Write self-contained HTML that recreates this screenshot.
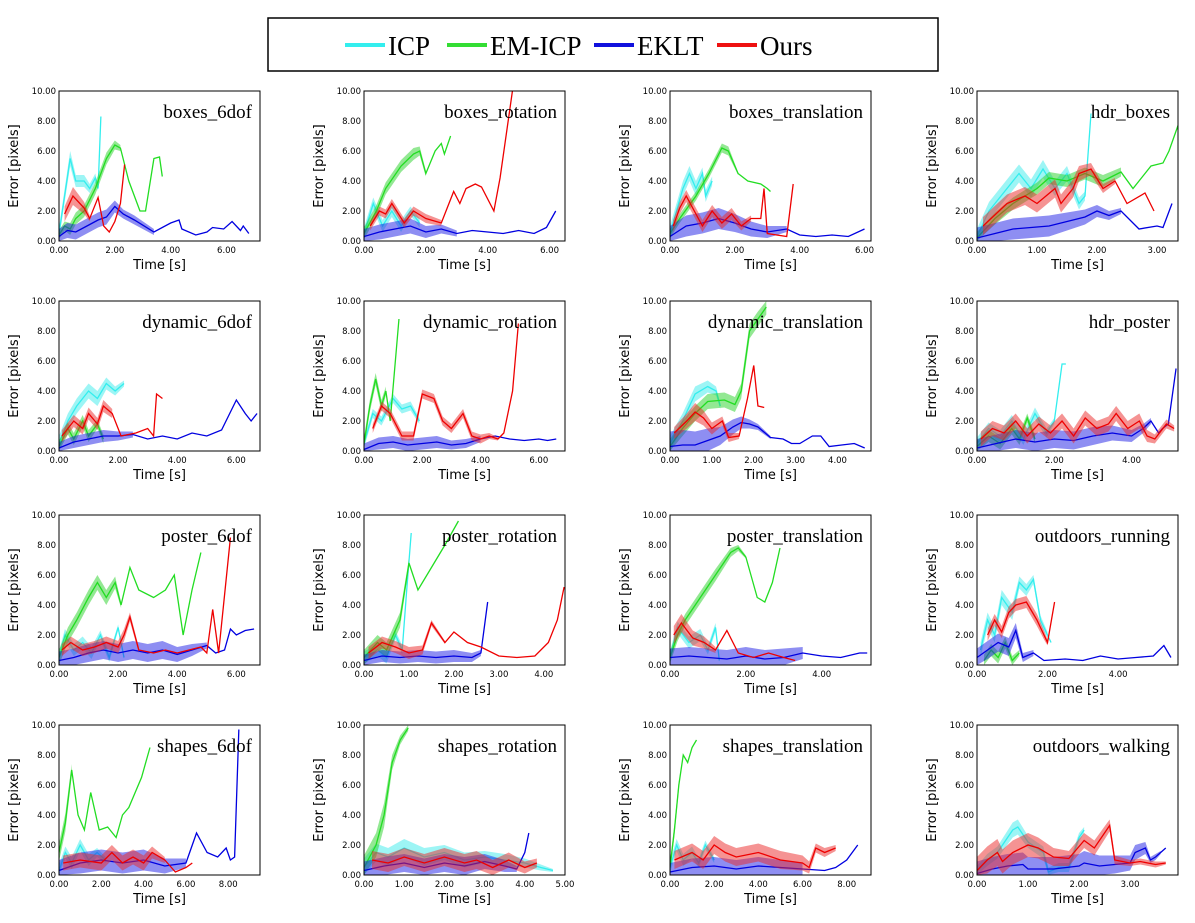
<!DOCTYPE html>
<html><head><meta charset="utf-8">
<style>
body{margin:0;background:#fff;}
svg{display:block;}
.tk{font-family:"DejaVu Sans","Liberation Sans",sans-serif;font-size:8.5px;fill:#000;}
.ax{font-family:"DejaVu Sans","Liberation Sans",sans-serif;font-size:13px;fill:#000;}
.tt{font-family:"Liberation Serif",serif;font-size:19px;fill:#000;}
.lg{font-family:"Liberation Serif",serif;font-size:27px;fill:#000;}
</style></head>
<body>
<svg id="fig" width="1195" height="923" xmlns="http://www.w3.org/2000/svg">
<g>
<rect x="268" y="18" width="670" height="53" fill="#fff" stroke="#000" stroke-width="1.5"/>
<g><line x1="345" y1="45" x2="385" y2="45" stroke="#33eeee" stroke-width="4"/><text class="lg" x="388" y="55">ICP</text></g>
<g><line x1="447" y1="45" x2="487" y2="45" stroke="#33dd33" stroke-width="4"/><text class="lg" x="490" y="55">EM-ICP</text></g>
<g><line x1="594" y1="45" x2="634" y2="45" stroke="#1111dd" stroke-width="4"/><text class="lg" x="637" y="55">EKLT</text></g>
<g><line x1="717" y1="45" x2="757" y2="45" stroke="#ee1111" stroke-width="4"/><text class="lg" x="760" y="55">Ours</text></g>
</g>
</svg>
<script>
const panelNames = ["boxes_6dof","boxes_rotation","boxes_translation","hdr_boxes","dynamic_6dof","dynamic_rotation","dynamic_translation","hdr_poster","poster_6dof","poster_rotation","poster_translation","outdoors_running","shapes_6dof","shapes_rotation","shapes_translation","outdoors_walking"];
const panelXMax = [7.2,6.5,6.2,3.35,6.8,6.9,4.8,5.2,6.8,4.47,5.3,5.7,9.5,5.0,9.1,3.94];
const panelXStep = [2,2,2,1,2,2,1,2,2,1,2,2,2,1,2,1];
const yTicks = [0,2,4,6,8,10];

const icpData = [
 [[0,0.5,0.4],[0.4,5.5,0.5],[0.6,4.0,0.4],[0.9,4.0,0.4],[1.1,3.5,0.3],[1.3,4.2,0.3],[1.4,3.5,0.2],[1.5,8.3,0]],
 [[0,0.5,0.4],[0.3,2.5,0.4],[0.6,1.0,0.4],[0.9,2.0,0.4],[1.2,1.0,0.4],[1.5,2.0,0.3],[1.8,1.2,0.3]],
 [[0,0.5,0.5],[0.4,3.5,0.5],[0.6,4.5,0.5],[0.8,3.5,0.5],[1.0,4.5,0.4],[1.1,3.0,0.4],[1.3,4.0,0.3]],
 [[0,0.3,0.5],[0.2,2.0,0.6],[0.5,3.5,0.6],[0.7,4.5,0.6],[0.9,3.5,0.6],[1.1,4.8,0.6],[1.3,3.5,0.5],[1.5,4.5,0.5],[1.7,2.5,0.4],[1.8,3.0,0.3],[1.9,8.5,0]],
 [[0,0.5,0.5],[0.3,2.0,0.5],[0.6,3.0,0.5],[1.0,4.0,0.5],[1.3,3.5,0.5],[1.6,4.5,0.4],[1.9,4.0,0.3],[2.2,4.5,0.2]],
 [[0,0.5,0.3],[0.3,2.5,0.3],[0.6,2.0,0.3],[1.0,3.5,0.3],[1.3,2.8,0.3],[1.6,3.0,0.3],[1.9,2.0,0.2]],
 [[0,0.5,0.5],[0.3,2.0,0.5],[0.6,3.8,0.5],[0.9,4.3,0.4],[1.1,4.0,0.3],[1.2,3.0,0.2]],
 [[0,0.5,0.4],[0.3,1.5,0.4],[0.6,1.0,0.4],[0.9,2.0,0.4],[1.2,0.8,0.4],[1.5,2.5,0.4],[1.8,1.2,0.3],[2.0,2.0,0.2],[2.2,5.8,0],[2.3,5.8,0]],
 [[0,0.5,0.4],[0.2,2.0,0.4],[0.5,1.0,0.4],[0.8,1.5,0.4],[1.1,0.8,0.4],[1.4,2.0,0.3],[1.7,0.5,0.3],[2.0,2.5,0.2],[2.2,0.5,0.1]],
 [[0,0.5,0.4],[0.3,1.0,0.4],[0.5,0.5,0.4],[0.7,2.0,0.3],[0.85,1.0,0.3],[0.95,5.0,0.2],[1.05,8.8,0]],
 [[0,0.5,0.4],[0.2,2.5,0.4],[0.5,1.5,0.4],[0.8,2.0,0.4],[1.0,1.0,0.3],[1.2,2.5,0.3],[1.3,0.3,0.1]],
 [[0.1,1.0,0.5],[0.3,3.0,0.5],[0.5,2.0,0.5],[0.7,4.5,0.5],[1.0,3.5,0.5],[1.2,5.5,0.4],[1.4,5.0,0.4],[1.6,5.7,0.3],[1.8,3.0,0.3],[2.0,2.0,0.2],[2.1,1.5,0]],
 [[0,0.3,0.4],[0.3,1.5,0.4],[0.6,0.8,0.4],[1.0,2.0,0.4],[1.4,1.0,0.4],[1.8,1.5,0.3],[2.2,1.0,0.2]],
 [[0,0.5,0.6],[0.3,1.5,0.6],[0.6,1.2,0.6],[1.0,1.8,0.6],[1.5,1.2,0.6],[2.0,1.5,0.5],[2.5,1.0,0.5],[3.0,1.2,0.4],[3.5,1.0,0.4],[4.0,0.8,0.3],[4.4,0.5,0.2],[4.7,0.3,0.1]],
 [[0,0.5,0.4],[0.3,2.0,0.4],[0.6,1.0,0.4],[1.0,1.5,0.4],[1.3,0.8,0.3],[1.6,2.0,0.3],[2.0,1.0,0.2]],
 [[0,0.2,0.4],[0.2,1.0,0.4],[0.4,1.5,0.4],[0.7,3.0,0.5],[0.8,3.2,0.5],[1.0,2.2,0.4],[1.3,1.5,0.4],[1.4,0.2,0.3],[1.6,0.5,0.3],[1.8,0.5,0.3],[2.0,2.5,0.3],[2.1,3.0,0.2]]
];
const emicpData = [
 [[0,0.4,0.3],[0.2,1.0,0.3],[0.4,0.8,0.4],[0.6,1.5,0.4],[0.9,2.0,0.4],[1.3,3.5,0.4],[1.7,5.5,0.4],[2.0,6.4,0.3],[2.2,6.2,0.2],[2.5,4.0,0],[2.9,2.0,0],[3.1,2.0,0],[3.4,5.5,0],[3.6,5.6,0],[3.7,4.3,0]],
 [[0,0.5,0.4],[0.4,2.0,0.4],[0.7,3.5,0.4],[1.2,5.0,0.4],[1.6,5.8,0.4],[1.8,6.0,0.3],[2.0,4.5,0.2],[2.3,6.0,0],[2.5,6.5,0],[2.6,5.8,0],[2.8,7.0,0]],
 [[0,0.5,0.3],[0.3,1.5,0.3],[0.8,3.0,0.3],[1.2,4.5,0.3],[1.6,6.2,0.3],[1.8,6.0,0.3],[2.1,4.5,0.1],[2.4,4.0,0],[2.8,3.8,0],[3.0,3.5,0],[3.1,3.3,0]],
 [[0,0.2,0.4],[0.3,1.5,0.4],[0.6,2.5,0.4],[1.0,3.5,0.4],[1.2,4.2,0.4],[1.5,4.0,0.4],[1.8,4.5,0.4],[2.1,4.0,0.4],[2.4,4.6,0.3],[2.6,3.5,0],[2.9,5.0,0],[3.1,5.2,0],[3.2,6.0,0],[3.35,7.7,0]],
 [[0,0.3,0.4],[0.3,1.5,0.4],[0.5,0.8,0.4],[0.8,2.0,0.4],[1.0,1.0,0.4],[1.3,1.8,0.3],[1.5,0.8,0.3]],
 [[0,0.5,0.4],[0.2,3.0,0.4],[0.4,4.8,0.4],[0.6,3.0,0.4],[0.75,4.0,0.3],[0.9,2.0,0],[1.2,8.8,0]],
 [[0,0.3,0.5],[0.3,1.5,0.5],[0.6,2.5,0.5],[0.9,3.3,0.5],[1.3,3.4,0.5],[1.55,3.1,0.5],[1.7,4.0,0.5],[1.9,8.0,0.5],[2.1,8.8,0.5],[2.3,9.6,0.5]],
 [[0,0.3,0.4],[0.3,1.0,0.4],[0.6,0.5,0.4],[0.9,1.5,0.4],[1.1,0.8,0.4],[1.3,2.2,0.3],[1.5,0.8,0.3]],
 [[0,0.5,0.5],[0.3,2.0,0.5],[0.6,3.0,0.5],[1.0,4.5,0.5],[1.3,5.5,0.5],[1.6,4.5,0.5],[1.9,5.5,0.4],[2.1,4.0,0.2],[2.4,6.5,0],[2.7,5.0,0],[3.2,4.5,0],[3.6,5.0,0],[3.9,6.0,0],[4.2,2.0,0],[4.5,5.0,0],[4.8,7.5,0]],
 [[0,0.5,0.5],[0.3,1.5,0.5],[0.5,1.0,0.5],[0.8,3.0,0.5],[1.0,6.8,0.3],[1.2,5.0,0],[1.5,6.5,0],[1.8,8.0,0],[2.1,9.6,0]],
 [[0,0.5,0.4],[0.2,2.0,0.4],[0.4,3.0,0.4],[0.8,4.5,0.4],[1.2,6.0,0.4],[1.6,7.5,0.3],[1.8,7.8,0.2],[2.0,7.2,0.1],[2.3,4.5,0],[2.5,4.2,0],[2.7,5.5,0],[2.9,7.8,0]],
 [[0.2,0.3,0.4],[0.4,1.0,0.4],[0.6,0.5,0.4],[0.8,1.5,0.4],[1.0,0.3,0.3],[1.2,0.8,0.2]],
 [[0,1.5,0.6],[0.3,3.5,0.6],[0.6,7.0,0.4],[0.9,4.0,0],[1.2,3.0,0],[1.5,5.5,0],[1.9,3.0,0],[2.3,3.2,0],[2.7,2.5,0],[3.0,4.0,0],[3.3,4.5,0],[3.6,5.5,0],[3.9,6.5,0],[4.3,8.5,0]],
 [[0,0.5,0.8],[0.3,2.0,0.8],[0.5,4.0,0.8],[0.7,7.5,0.5],[0.9,9.0,0.3],[1.1,9.8,0.2]],
 [[0,0.5,0.4],[0.2,3.0,0.4],[0.4,6.0,0.3],[0.6,8.0,0],[0.8,7.5,0],[1.0,8.5,0],[1.2,9.0,0]],
 []
];
const ekltData = [
 [[0,0.3,0.5],[0.3,0.7,0.5],[0.6,0.6,0.5],[1.0,1.0,0.5],[1.4,1.4,0.5],[1.7,1.6,0.5],[2.0,2.3,0.4],[2.3,1.8,0.3],[2.7,1.4,0.3],[3.4,0.6,0.2],[4.0,1.2,0],[4.3,1.4,0],[4.4,0.8,0],[4.9,0.4,0],[5.3,0.6,0],[5.5,0.9,0],[5.9,0.8,0],[6.2,1.3,0],[6.5,0.7,0],[6.6,1.0,0],[6.8,0.5,0]],
 [[0,0.3,0.5],[0.5,0.6,0.5],[1.0,0.8,0.5],[1.5,1.0,0.5],[2.0,0.6,0.4],[2.5,0.8,0.3],[3.0,0.5,0.2],[3.5,0.7,0],[4.0,0.6,0],[4.5,0.5,0],[5.0,0.7,0],[5.5,0.5,0],[5.9,0.9,0],[6.2,2.0,0]],
 [[0,0.3,0.7],[0.5,1.0,0.7],[1.0,1.2,0.7],[1.5,1.5,0.7],[2.0,1.2,0.6],[2.5,0.8,0.5],[3.0,0.6,0.4],[3.6,0.8,0.2],[4.0,0.4,0],[4.5,0.3,0],[5.0,0.4,0],[5.5,0.3,0],[6.0,0.8,0]],
 [[0,0.2,0.7],[0.3,0.5,0.7],[0.6,0.8,0.7],[0.9,0.9,0.7],[1.2,1.0,0.7],[1.5,1.3,0.6],[1.8,1.6,0.5],[2.0,2.0,0.4],[2.2,1.7,0.3],[2.4,2.0,0.2],[2.7,0.8,0],[3.0,1.0,0],[3.1,0.9,0],[3.25,2.5,0]],
 [[0,0.2,0.4],[0.5,0.6,0.4],[1.0,0.8,0.4],[1.5,1.0,0.4],[2.0,1.0,0.3],[2.5,1.1,0.2],[3.0,0.8,0],[3.5,1.0,0],[4.0,0.8,0],[4.5,1.2,0],[5.0,1.0,0],[5.5,1.4,0],[6.0,3.4,0],[6.3,2.5,0],[6.5,2.0,0],[6.7,2.5,0]],
 [[0,0.1,0.4],[0.5,0.5,0.4],[1.0,0.6,0.4],[1.5,0.4,0.4],[2.0,0.5,0.4],[2.5,0.6,0.4],[3.0,0.4,0.3],[3.5,0.5,0.3],[4.0,0.8,0.2],[4.5,1.0,0],[5.0,0.8,0],[5.5,0.7,0],[6.0,0.8,0],[6.3,0.7,0],[6.6,0.8,0]],
 [[0,0.3,1.0],[0.3,0.4,1.0],[0.6,0.4,0.9],[0.9,0.7,0.8],[1.2,1.0,0.6],[1.5,1.6,0.5],[1.7,1.9,0.4],[1.9,1.8,0.3],[2.1,1.6,0.2],[2.4,0.9,0.1],[2.7,0.8,0],[2.9,0.5,0],[3.1,0.5,0],[3.4,1.0,0],[3.6,1.0,0],[3.8,0.3,0],[4.1,0.4,0],[4.4,0.5,0],[4.65,0.2,0]],
 [[0,0.2,0.6],[0.5,0.5,0.6],[1.0,0.8,0.6],[1.5,0.6,0.6],[2.0,0.8,0.6],[2.5,0.7,0.6],[3.0,1.0,0.6],[3.5,1.2,0.5],[4.0,1.0,0.4],[4.3,1.5,0.3],[4.5,2.0,0.2],[4.7,1.2,0],[4.8,1.5,0],[4.95,1.8,0],[5.15,5.5,0]],
 [[0,0.3,0.6],[0.5,0.5,0.6],[1.0,0.8,0.6],[1.5,1.0,0.6],[2.0,0.8,0.6],[2.5,1.0,0.6],[3.0,0.8,0.6],[3.5,1.0,0.6],[4.0,0.7,0.5],[4.5,1.0,0.4],[5.0,1.3,0.2],[5.3,0.8,0],[5.6,1.0,0],[5.8,2.4,0],[6.0,2.0,0],[6.3,2.3,0],[6.6,2.4,0]],
 [[0,0.3,0.4],[0.4,0.6,0.4],[0.8,0.5,0.4],[1.2,0.6,0.4],[1.6,0.5,0.4],[2.0,0.6,0.4],[2.4,0.5,0.3],[2.6,0.8,0.2],[2.75,4.2,0]],
 [[0,0.5,0.6],[0.5,0.6,0.6],[1.0,0.5,0.6],[1.5,0.4,0.6],[2.0,0.6,0.6],[2.5,0.4,0.6],[3.0,0.5,0.6],[3.5,0.8,0.4],[4.0,0.6,0],[4.5,0.5,0],[5.0,0.8,0],[5.2,0.8,0]],
 [[0,0.5,0.6],[0.3,1.0,0.6],[0.6,1.5,0.6],[0.9,1.2,0.6],[1.1,2.3,0.5],[1.3,0.5,0.3],[1.6,0.8,0.2],[1.9,0.3,0],[2.5,0.4,0],[3.0,0.3,0],[3.5,0.6,0],[4.0,0.4,0],[4.5,0.5,0],[5.0,0.6,0],[5.3,1.3,0],[5.5,0.5,0]],
 [[0,0.3,0.7],[1.0,0.8,0.7],[2.0,1.0,0.7],[3.0,0.8,0.7],[4.0,1.0,0.7],[5.0,0.6,0.5],[6.0,0.8,0.3],[6.5,2.8,0],[7.0,1.5,0],[7.5,1.2,0],[7.9,1.8,0],[8.1,1.0,0],[8.3,1.2,0],[8.5,9.7,0]],
 [[0,0.3,0.6],[0.5,0.6,0.6],[1.0,0.8,0.6],[1.5,0.5,0.6],[2.0,0.8,0.6],[2.5,0.6,0.6],[3.0,0.9,0.5],[3.5,0.6,0.4],[3.8,0.4,0.2],[4.0,1.5,0],[4.1,2.8,0]],
 [[0,0.2,0.6],[1.0,0.5,0.6],[2.0,0.6,0.6],[3.0,0.4,0.6],[4.0,0.6,0.6],[5.0,0.5,0.5],[6.0,0.4,0.4],[7.0,0.3,0],[7.5,0.5,0],[8.0,1.0,0],[8.5,2.0,0]],
 [[0,0.1,0.8],[0.3,0.4,0.8],[0.6,0.6,0.8],[0.9,0.7,0.8],[1.0,0.4,0.8],[1.5,0.4,0.8],[2.0,0.6,0.8],[2.1,0.8,0.8],[2.4,0.6,0.7],[2.7,0.7,0.6],[3.0,0.8,0.5],[3.1,1.5,0.5],[3.3,1.8,0.4],[3.4,1.0,0.2],[3.5,1.2,0.2],[3.6,1.5,0.1],[3.7,1.8,0]]
];
const oursData = [
 [[0.2,1.8,0.5],[0.5,3.0,0.6],[0.9,2.2,0.4],[1.1,1.5,0.2],[1.4,2.9,0],[1.6,1.0,0],[1.8,0.6,0],[2.0,1.3,0],[2.2,2.5,0],[2.35,5.1,0]],
 [[0.2,1.0,0.3],[0.5,2.0,0.3],[0.7,1.8,0.3],[0.9,2.5,0.3],[1.3,1.2,0.3],[1.6,2.0,0.3],[2.0,1.5,0.3],[2.5,1.2,0.2],[2.9,3.3,0],[3.1,2.5,0],[3.3,3.5,0],[3.6,3.8,0],[3.8,3.6,0],[4.2,2.0,0],[4.4,4.2,0],[4.8,10,0]],
 [[0.1,1.0,0.4],[0.3,2.2,0.4],[0.5,3.0,0.4],[0.8,1.8,0.4],[1.0,1.0,0.4],[1.3,2.0,0.4],[1.6,1.2,0.4],[1.9,1.8,0.4],[2.2,1.0,0.3],[2.5,1.5,0.2],[2.8,1.5,0],[2.9,3.5,0],[3.0,0.5,0],[3.6,0.3,0],[3.8,3.8,0]],
 [[0.1,1.0,0.6],[0.5,2.5,0.6],[0.8,3.0,0.6],[1.0,2.5,0.6],[1.3,3.5,0.6],[1.4,2.5,0.6],[1.6,3.5,0.6],[1.7,4.5,0.5],[1.9,4.8,0.4],[2.1,3.5,0.3],[2.3,4.0,0.2],[2.5,2.5,0],[2.8,3.2,0],[2.95,2.0,0]],
 [[0.1,1.0,0.4],[0.5,2.0,0.4],[0.8,1.5,0.4],[1.0,2.5,0.4],[1.3,1.8,0.4],[1.5,3.0,0.4],[1.8,2.5,0.3],[2.1,1.0,0],[2.6,1.2,0],[3.0,1.5,0],[3.2,1.0,0],[3.3,3.8,0],[3.5,3.5,0]],
 [[0.3,1.5,0.3],[0.6,3.0,0.3],[0.9,2.5,0.3],[1.3,1.0,0.3],[1.7,1.0,0.3],[2.0,3.8,0.3],[2.4,3.5,0.3],[2.7,2.0,0.3],[3.0,1.5,0.3],[3.4,2.5,0.3],[3.7,1.0,0.3],[4.0,0.8,0.3],[4.3,1.0,0.2],[4.6,0.8,0.1],[4.8,1.2,0],[5.1,4.0,0],[5.3,8.5,0]],
 [[0.1,1.2,0.4],[0.4,2.0,0.5],[0.6,2.6,0.6],[0.8,2.2,0.5],[1.0,1.5,0.4],[1.25,2.0,0.3],[1.4,0.9,0.3],[1.65,1.0,0.2],[1.85,3.5,0],[2.0,5.7,0],[2.1,3.0,0],[2.25,2.9,0]],
 [[0.1,0.8,0.5],[0.4,1.5,0.5],[0.7,1.2,0.5],[1.0,2.0,0.5],[1.3,1.0,0.5],[1.6,1.8,0.5],[1.9,1.2,0.5],[2.2,2.0,0.5],[2.5,1.0,0.5],[2.8,2.2,0.5],[3.1,1.5,0.5],[3.4,1.8,0.5],[3.6,2.5,0.5],[3.9,1.5,0.5],[4.2,2.0,0.5],[4.4,1.0,0.4],[4.6,0.8,0.3],[4.9,1.8,0.3],[5.1,1.5,0.2]],
 [[0.1,1.0,0.4],[0.4,1.5,0.4],[0.8,1.0,0.4],[1.2,1.2,0.4],[1.6,1.5,0.4],[2.0,1.2,0.4],[2.2,2.0,0.4],[2.4,3.2,0.3],[2.7,1.0,0.2],[3.2,0.8,0],[3.6,1.0,0],[4.0,0.8,0],[4.4,1.0,0],[4.8,1.2,0],[5.0,0.8,0],[5.2,3.7,0],[5.4,0.8,0],[5.8,8.5,0]],
 [[0.1,0.8,0.4],[0.4,1.5,0.4],[0.7,1.2,0.4],[1.0,0.8,0.4],[1.3,1.0,0.3],[1.5,2.8,0.2],[1.8,1.5,0.1],[2.0,2.2,0],[2.3,1.5,0],[2.6,1.2,0],[3.0,0.6,0],[3.4,0.5,0],[3.8,0.6,0],[4.1,1.5,0],[4.3,3.0,0],[4.45,5.2,0]],
 [[0.1,2.0,0.6],[0.3,2.8,0.6],[0.6,1.8,0.5],[0.9,1.5,0.4],[1.2,1.0,0.2],[1.5,2.3,0],[1.8,0.8,0],[2.2,0.5,0],[2.6,0.8,0],[3.0,0.5,0],[3.3,0.3,0]],
 [[0.3,2.0,0.4],[0.5,3.0,0.4],[0.7,2.2,0.4],[0.9,3.5,0.4],[1.1,4.0,0.4],[1.4,4.2,0.4],[1.7,3.0,0.4],[1.9,2.0,0.3],[2.0,1.5,0.2],[2.2,4.2,0]],
 [[0.2,0.8,0.5],[1.0,1.0,0.5],[2.0,0.8,0.5],[2.5,1.5,0.5],[3.0,0.8,0.5],[3.5,1.2,0.5],[4.0,0.8,0.5],[4.4,1.5,0.4],[5.0,1.0,0.2],[5.5,0.2,0],[6.0,0.5,0],[6.3,0.8,0]],
 [[0.2,1.0,0.6],[0.6,0.8,0.6],[1.0,1.2,0.6],[1.5,0.8,0.6],[2.0,1.2,0.6],[2.5,0.8,0.6],[2.8,1.0,0.6],[3.2,0.5,0.5],[3.6,1.0,0.5],[4.0,0.5,0.4],[4.3,0.8,0.3]],
 [[0.2,1.0,0.6],[1.0,1.5,0.6],[1.5,1.0,0.6],[2.0,2.0,0.6],[2.5,1.5,0.6],[3.0,1.2,0.6],[4.0,1.5,0.6],[5.0,1.0,0.6],[6.0,0.8,0.5],[6.3,0.5,0.4],[6.6,1.8,0.3],[7.0,1.5,0.3],[7.5,1.8,0.2]],
 [[0,0.3,0.9],[0.2,1.0,0.9],[0.4,1.5,0.9],[0.5,0.9,0.8],[0.7,1.5,0.8],[1.0,2.0,0.8],[1.2,1.8,0.7],[1.5,1.2,0.6],[1.8,1.1,0.5],[2.1,2.3,0.5],[2.3,1.8,0.5],[2.6,3.3,0.4],[2.7,1.0,0.3],[3.0,0.8,0.2],[3.2,0.9,0.2],[3.5,0.7,0.2],[3.7,0.8,0.1]]
];

const NS = "http://www.w3.org/2000/svg";
const svg = document.getElementById('fig');
const colLeft = [59, 364, 670, 977];
const rowTop = [91, 301, 515, 725];
const PW = 201, PH = 150, YMAX = 10;
const seriesList = [
  {name:'icp', data:icpData, color:'#33eeee', fill:'rgba(60,235,235,0.5)'},
  {name:'em-icp', data:emicpData, color:'#22dd22', fill:'rgba(40,210,40,0.5)'},
  {name:'eklt', data:ekltData, color:'#0000e0', fill:'rgba(30,30,230,0.5)'},
  {name:'ours', data:oursData, color:'#ee0000', fill:'rgba(235,40,40,0.5)'}
];
function mk(tag, attrs){ const e=document.createElementNS(NS,tag); for(const k in attrs) e.setAttribute(k,attrs[k]); return e; }

panelNames.forEach((pname, i) => {
  const L = colLeft[i%4], T = rowTop[Math.floor(i/4)];
  const xmax = panelXMax[i];
  const xs = v => L + v/xmax*PW;
  const ys = v => T + PH - Math.min(v, YMAX)/YMAX*PH;
  const g = mk('g', {});
  
  
  svg.appendChild(g);
  const clipId = 'clip'+i;
  const cp = mk('clipPath',{id:clipId}); cp.appendChild(mk('rect',{x:L,y:T,width:PW,height:PH})); g.appendChild(cp);
  const marks = mk('g',{'clip-path':'url(#'+clipId+')'});
  g.appendChild(marks);
  seriesList.forEach(s => {
    const d = s.data[i];
    if (!d || !d.length) return;
    const banded = d.filter(p => p[2] > 0);
    if (banded.length > 1) {
      let top = banded.map(p => xs(p[0])+','+ys(p[1]+p[2]));
      let bot = banded.slice().reverse().map(p => xs(p[0])+','+ys(Math.max(0,p[1]-p[2])));
      const band = mk('polygon',{points: top.concat(bot).join(' '), fill:s.fill, stroke:'none'});
      
      
      marks.appendChild(band);
    }
    const line = mk('polyline',{points: d.map(p => xs(p[0])+','+ys(p[1])).join(' '), fill:'none', stroke:s.color, 'stroke-width':1.3});
    
    
    marks.appendChild(line);
  });
  const frame = mk('rect',{x:L,y:T,width:PW,height:PH,fill:'none',stroke:'#000','stroke-width':1});
  
  
  g.appendChild(frame);
  yTicks.forEach(v => {
    const t = mk('text',{x:L-3,y:ys(v)+3,'text-anchor':'end',class:'tk'});
    t.textContent = v.toFixed(2);
    
    
    g.appendChild(t);
  });
  for (let v = 0; v <= xmax + 1e-9; v += panelXStep[i]) {
    const t = mk('text',{x:xs(v),y:T+PH+12,'text-anchor':'middle',class:'tk'});
    t.textContent = v.toFixed(2);
    
    
    g.appendChild(t);
  }
  const xt = mk('text',{x:L+PW/2,y:T+PH+28,'text-anchor':'middle',class:'ax'});
  xt.textContent = 'Time [s]';
  
  
  g.appendChild(xt);
  const yt = mk('text',{x:0,y:0,'text-anchor':'middle',class:'ax',transform:'translate('+(L-41)+','+(T+PH/2)+') rotate(-90)'});
  yt.textContent = 'Error [pixels]';
  
  
  g.appendChild(yt);
  const tt = mk('text',{x:L+PW-8,y:T+27,'text-anchor':'end',class:'tt'});
  tt.textContent = pname;
  
  
  g.appendChild(tt);
});
</script>
</body></html>
